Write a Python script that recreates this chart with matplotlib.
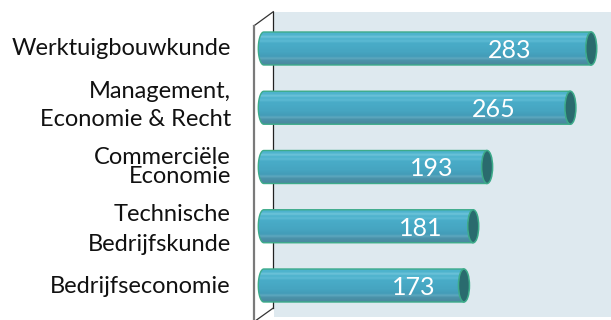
import matplotlib
matplotlib.use("Agg")
import matplotlib.pyplot as plt
import numpy as np
from matplotlib.path import Path
from matplotlib.patches import PathPatch, Ellipse, FancyBboxPatch
from matplotlib.colors import LinearSegmentedColormap
from matplotlib.lines import Line2D

plt.rcParams['font.family'] = ['Lato', 'DejaVu Sans']

# Data
categories = ["Werktuigbouwkunde", "Management,\nEconomie & Recht", "Commerciële\nEconomie",
              "Technische\nBedrijfskunde", "Bedrijfseconomie"]
values = [283, 265, 193, 181, 173]

# Layout (pixels)
W, H = 611, 320
X0 = 263.8        # pixel position of value 0
PX = 1.157        # pixels per value unit
Y0 = 48.5         # pixel centre of first bar
ROW = 59.25       # pixel distance between bars
BAR_H_PX = 33
CAP_A_PX = 5.5

def dx(p):
    return (p - X0) / PX

def dy(p):
    return (p - Y0) / ROW

fig = plt.figure(figsize=(W / 100, H / 100), dpi=100)
ax = fig.add_axes([0, 0, 1, 1])
ax.set_axis_off()

# Back wall
wall = FancyBboxPatch((dx(274), dy(11.7)), dx(611) - dx(274), dy(317.5) - dy(11.7),
                      boxstyle="square,pad=0", facecolor="#dee9ef", edgecolor="none", zorder=0)
ax.add_patch(wall)

# Side wall edges
ax.add_line(Line2D([dx(273.3), dx(273.3)], [dy(11.7), dy(308)], color="#222222", lw=0.9, zorder=1))
ax.add_line(Line2D([dx(253.7), dx(273.3)], [dy(26), dy(11.7)], color="#333333", lw=0.9, zorder=1))
ax.add_line(Line2D([dx(273.3), dx(253.7)], [dy(308), dy(322)], color="#333333", lw=0.9, zorder=1))
ax.add_line(Line2D([dx(253.7), dx(253.7)], [dy(26), dy(322)], color="#7a7a7a", lw=1.6, zorder=1))

# Cylinder shading, top to bottom
shade = LinearSegmentedColormap.from_list("cyl", [
    (0.00, "#4fb3cc"), (0.08, "#4db3cd"), (0.14, "#6fc4da"), (0.20, "#4cb1cc"),
    (0.27, "#5dbad3"), (0.33, "#49acc8"), (0.60, "#46a5c1"), (0.74, "#439cb8"),
    (0.80, "#5fa8bf"), (0.86, "#4a92aa"), (1.00, "#4a879c")])
grad = np.linspace(0, 1, 128).reshape(-1, 1)

a = CAP_A_PX / PX
h = BAR_H_PX / ROW
for i, v in enumerate(values):
    top, bot = i - h / 2, i + h / 2
    th = np.linspace(np.pi / 2, 3 * np.pi / 2, 40)
    ex = a * np.cos(th)
    ey = i - (h / 2) * np.sin(th)
    verts = list(zip(ex, ey)) + [(v, bot), (v, top), (ex[0], ey[0])]
    codes = [Path.MOVETO] + [Path.LINETO] * (len(verts) - 2) + [Path.CLOSEPOLY]
    body = PathPatch(Path(verts, codes), facecolor="none", edgecolor="#3dab8a", lw=1.0, zorder=3)
    ax.add_patch(body)
    im = ax.imshow(grad, cmap=shade, aspect="auto", extent=[-a, v, bot, top],
                   origin="upper", zorder=2, interpolation="bilinear")
    im.set_clip_path(body)
    cap = Ellipse((v, i), 2 * a, h, facecolor="#2a6b6e", edgecolor="#3dab8a", lw=1.1, zorder=4)
    ax.add_patch(cap)
    ax.text(v * 0.75, i + 0.03, str(v), color="white", fontsize=18,
            ha="center", va="center", zorder=5)

# Category labels: (linespacing, vertical offset in pixels)
label_style = [(1.0, 0.0), (1.4, -2.0), (0.85, 0.0), (1.55, 3.5), (1.0, 1.0)]
for i, (c, (ls, off)) in enumerate(zip(categories, label_style)):
    ax.text(dx(231), i + off / ROW, c, ha="right", va="center", fontsize=17,
            color="#111111", linespacing=ls, multialignment="right")

ax.set_xlim(dx(0), dx(W))
ax.set_ylim(dy(H), dy(0))

fig.savefig("out.png", dpi=100)
